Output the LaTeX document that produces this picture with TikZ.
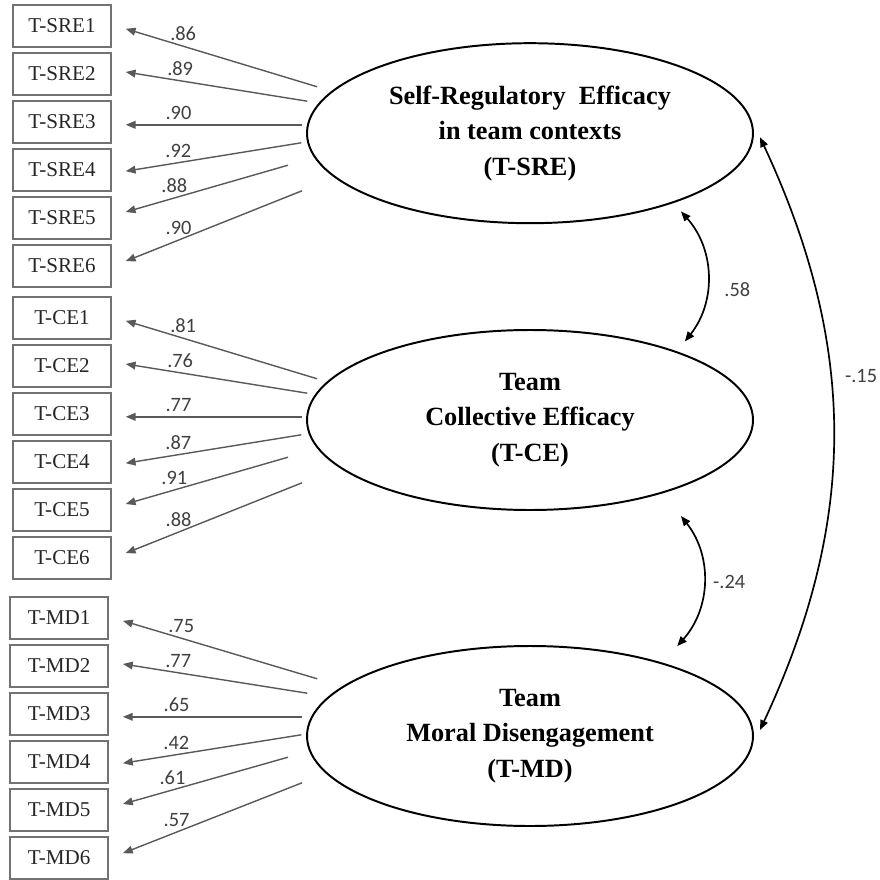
\documentclass[tikz,border=0pt]{standalone}
\usepackage{fontspec}
\setmainfont{Liberation Serif}
\newfontfamily\numfont{Carlito}
\usetikzlibrary{shapes.geometric,arrows.meta,calc}

\tikzset{
  indicator/.style={draw=black!55, line width=1pt, minimum width=2.45cm,
    minimum height=1.05cm, inner sep=0pt, text=black!85,
    font=\fontsize{15}{18}\selectfont},
  latent/.style={ellipse, draw, line width=1.4pt, minimum width=11.15cm,
    minimum height=4.5cm, align=center, inner sep=0pt,
    font=\fontsize{18.7}{25.2}\selectfont\bfseries},
  loading/.style={-{Triangle[length=7pt,width=5.5pt]}, black!65, line width=1pt},
  covar/.style={{Triangle[length=7pt,width=5.5pt]}-{Triangle[length=7pt,width=5.5pt]}, line width=1.2pt},
  coef/.style={text=black!75, font=\numfont\fontsize{14.5}{17}\selectfont},
}

\begin{document}
\begin{tikzpicture}
  \useasboundingbox (0,0) rectangle (22,-22);
  % latent factors
  \node[latent] (sre) at (13.25,-3.33) {Self-Regulatory\ \ Efficacy\\in team contexts\\(T-SRE)};
  \node[latent] (ce) at (13.25,-10.5) {Team\\Collective Efficacy\\(T-CE)};
  \node[latent] (md) at (13.25,-18.4) {Team\\Moral Disengagement\\(T-MD)};

  % indicators
  \foreach \i in {1,...,6} {
    \node[indicator] (sre\i) at (1.55,{-0.65-1.2*(\i-1)}) {T-SRE\i};
    \node[indicator] (ce\i) at (1.55,{-7.95-1.2*(\i-1)}) {T-CE\i};
    \node[indicator] (md\i) at (1.48,{-15.45-1.2*(\i-1)}) {T-MD\i};
  }

  % loadings
  \foreach \f/\vals in {sre/{.86,.89,.90,.92,.88,.90},
                        ce/{.81,.76,.77,.87,.91,.88},
                        md/{.75,.77,.65,.42,.61,.57}}
    \foreach \v [count=\i] in \vals {
      \pgfmathsetmacro\dx{{0.28,0.03,-0.11,-0.12,-0.45,-0.1}[\i-1]}
      \pgfmathsetmacro\dy{{-1.52,-0.68,-0.07,0.68,1.32,1.88}[\i-1]}
      \pgfmathsetmacro\ty{{-0.07,0.05,-0.07,-0.03,0.15,0.12}[\i-1]}
      \draw[loading] ($(\f.west |- \f\i.east)+(\dx,\dy)$)
        -- node[coef, pos=0.7, above] {\v} ([xshift=3.5mm,yshift=\ty cm]\f\i.east);
    }

  % covariances
  \draw[covar] ([yshift=-2.75mm]sre.-24) to[bend left=40]
    node[coef, pos=0.6, right=3mm] {.58} ([yshift=3.2mm]ce.23);
  \draw[covar] ([yshift=-7.2mm]ce.-24) to[bend left=40]
    node[coef, right=1mm] {-.24} ([yshift=5.3mm]md.25);
  \draw[covar] ([xshift=1.5mm,yshift=-1mm]sre.east) to[bend left=25]
    node[coef, pos=0.4, right=2.3mm] {-.15} ([xshift=1.5mm,yshift=1.5mm]md.east);
\end{tikzpicture}
\end{document}
